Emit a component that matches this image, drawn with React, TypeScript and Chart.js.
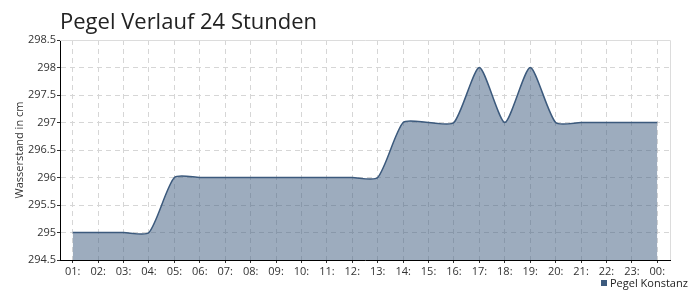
import React, { useEffect, useRef } from "react";
import { Chart, registerables } from "chart.js";

Chart.register(...registerables);

const chartTitle = "Pegel Verlauf 24 Stunden";
const seriesName = "Pegel Konstanz";
const yAxisTitle = "Wasserstand in cm";
const hours = [
  "01:", "02:", "03:", "04:", "05:", "06:", "07:", "08:", "09:", "10:", "11:", "12:",
  "13:", "14:", "15:", "16:", "17:", "18:", "19:", "20:", "21:", "22:", "23:", "00:",
];
const levels = [
  295, 295, 295, 295, 296, 296, 296, 296, 296, 296, 296, 296,
  296, 297, 297, 297, 298, 297, 298, 297, 297, 297, 297, 297,
];
const yMin = 294.5;
const yMax = 298.5;
const yStep = 0.5;

const FONT = "'Open Sans', sans-serif";
const LINE = "#3c5a7d";
const FILL = "rgba(60, 90, 125, 0.5)";
const GRID = "#d6d6d6";

const decorPlugin = {
  id: "decor",
  afterDraw(chart: any) {
    const { ctx, chartArea } = chart;
    ctx.save();
    ctx.strokeStyle = "#dcdcdc";
    ctx.lineWidth = 1;
    ctx.setLineDash([]);
    ctx.beginPath();
    ctx.moveTo(chartArea.left, chartArea.top + 0.5);
    ctx.lineTo(chartArea.right + 0.5, chartArea.top + 0.5);
    ctx.lineTo(chartArea.right + 0.5, chartArea.bottom);
    ctx.stroke();
    ctx.fillStyle = "#222";
    ctx.font = `22px ${FONT}`;
    ctx.textAlign = "left";
    ctx.textBaseline = "alphabetic";
    ctx.fillText(chartTitle, 60, 29);
    ctx.fillStyle = LINE;
    ctx.fillRect(601, 280, 6, 6);
    ctx.fillStyle = "#222";
    ctx.font = `11px ${FONT}`;
    ctx.textBaseline = "middle";
    ctx.fillText(seriesName, 610, 283.5);
    ctx.restore();
  },
};

export default function App() {
  const ref = useRef<HTMLCanvasElement>(null);
  useEffect(() => {
    if (!ref.current) return;
    const chart = new Chart(ref.current, {
      type: "line",
      data: {
        labels: hours,
        datasets: [
          {
            label: seriesName,
            data: levels,
            borderColor: LINE,
            backgroundColor: FILL,
            borderWidth: 1.5,
            fill: "start",
            tension: 0.22,
            pointRadius: 0,
            pointHoverRadius: 0,
          },
        ],
      },
      options: {
        responsive: false,
        animation: false,
        layout: { padding: { left: 0, top: 40, right: 30, bottom: 0 } },
        plugins: {
          legend: { display: false },
          title: { display: false },
          tooltip: { enabled: false },
        },
        scales: {
          x: {
            type: "category",
            offset: true,
            afterFit: (s: any) => {
              s.height = 40;
            },
            grid: {
              offset: false,
              color: GRID,
              lineWidth: 1,
              tickColor: "#333",
              tickLength: 3,
              tickBorderDash: [],
            },
            border: { display: true, color: "#000", width: 1, dash: [5, 4] },
            ticks: {
              color: "#333",
              font: { family: FONT, size: 11 },
              padding: 2,
              maxRotation: 0,
              autoSkip: false,
            },
          },
          y: {
            min: yMin,
            max: yMax,
            afterFit: (s: any) => {
              s.width = 60;
            },
            grid: {
              color: GRID,
              lineWidth: 1,
              tickColor: "#333",
              tickLength: 3,
              tickBorderDash: [],
            },
            border: { display: true, color: "#000", width: 1, dash: [5, 4] },
            ticks: {
              stepSize: yStep,
              color: "#333",
              font: { family: FONT, size: 11 },
              padding: 1,
              callback: (v: any) => String(Number(v)),
            },
            title: {
              display: true,
              text: yAxisTitle,
              color: "#333",
              font: { family: FONT, size: 11 },
              padding: { top: 13, bottom: 0 },
            },
          },
        },
      },
      plugins: [decorPlugin],
    });
    return () => chart.destroy();
  }, []);
  return (
    <div style={{ position: "absolute", left: 0, top: 0, width: 700, height: 300 }}>
      <canvas ref={ref} width={700} height={300} style={{ width: 700, height: 300 }} />
    </div>
  );
}
